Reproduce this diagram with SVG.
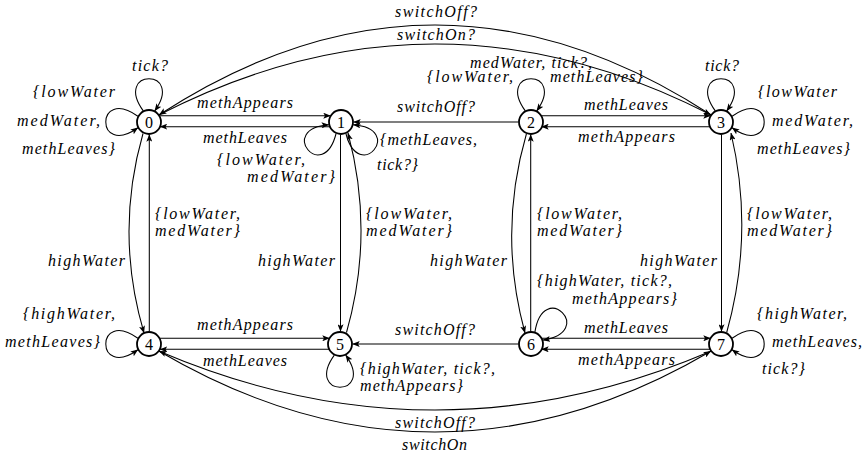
<svg xmlns="http://www.w3.org/2000/svg" width="867" height="457" viewBox="0 0 867 457">
  <style>
    .st circle { fill: #fff; stroke: #000; stroke-width: 1.8; }
    .tr path { fill: none; stroke: #000; stroke-width: 1.05; marker-end: url(#ah); }
  </style>
  <defs>
    <marker id="ah" viewBox="0 0 10 8" refX="9.6" refY="4" markerWidth="7.5" markerHeight="6" markerUnits="userSpaceOnUse" orient="auto">
      <path d="M0,0 L10,4 L0,8 L2.2,4 z" fill="#000"/>
    </marker>
  </defs>

  <!-- transitions -->
  <g id="transitions" class="tr">
    <!-- long arcs between 0 and 3 -->
    <path d="M710.8,114.8 Q435,-64.8 159.2,114.8"/>
    <path d="M159.2,114.8 Q435,-26.8 710.8,114.8"/>
    <!-- long arcs between 4 and 7 -->
    <path d="M710.8,351.2 Q435,468.8 159.2,351.2"/>
    <path d="M159.2,351.2 Q435,512.8 710.8,351.2"/>

    <!-- horizontal, upper row -->
    <path d="M160,115.7 L330.5,115.7"/>
    <path d="M330.5,126.7 L160,126.7"/>
    <path d="M518.5,122 L353.5,122"/>
    <path d="M541.5,115.7 L710.5,115.7"/>
    <path d="M710.5,126.7 L541.5,126.7"/>

    <!-- horizontal, lower row -->
    <path d="M160,338.3 L329.5,338.3"/>
    <path d="M329.5,349.3 L160,349.3"/>
    <path d="M518.5,344 L352.5,344"/>
    <path d="M541.5,338.3 L710.5,338.3"/>
    <path d="M710.5,349.3 L541.5,349.3"/>

    <!-- vertical -->
    <path d="M149.3,331.5 L149.3,134.5"/>
    <path d="M143,133.5 Q114.5,233 144,333"/>
    <path d="M340.5,134.5 L340.5,331.5"/>
    <path d="M346.5,332.5 Q374.8,233 348,133"/>
    <path d="M530.7,331.5 L530.7,134.5"/>
    <path d="M526.5,133.5 Q497.6,233 525,333"/>
    <path d="M721.5,134.5 L721.5,331.5"/>
    <path d="M726.7,332.5 Q754.6,233 731,133"/>

    <!-- self loops -->
    <path d="M143.3,110.9 C112.7,68.1 185.3,68.1 154.7,110.9"/>
    <path d="M137.9,116.3 C95.1,85.7 95.1,158.3 137.9,127.7"/>
    <path d="M336.1,133.5 C323.1,184.5 276.4,128.8 328.8,124.8"/>
    <path d="M345.9,133.5 C358.9,184.5 405.6,128.8 353.2,124.8"/>
    <path d="M525.3,110.9 C494.7,68.1 567.3,68.1 536.7,110.9"/>
    <path d="M715.3,110.9 C684.7,68.1 757.3,68.1 726.7,110.9"/>
    <path d="M732.1,116.3 C774.9,85.7 774.9,158.3 732.1,127.7"/>
    <path d="M137.9,338.3 C95.1,307.7 95.1,380.3 137.9,349.7"/>
    <path d="M334.3,355.1 C303.7,397.9 376.3,397.9 345.7,355.1"/>
    <path d="M534.9,332.1 C543.4,278.2 596.8,331.6 542.9,340.1"/>
    <path d="M732.1,338.3 C774.9,307.7 774.9,380.3 732.1,349.7"/>
  </g>

  <!-- transition labels -->
  <g id="labels" font-family="Liberation Serif, Times New Roman, DejaVu Serif, serif" font-style="italic" font-size="16" fill="#000" lengthAdjust="spacing">
    <text x="132" y="71" textLength="36" lengthAdjust="spacing">tick?</text>
    <text x="33" y="97" textLength="82" lengthAdjust="spacing">{lowWater</text>
    <text x="17" y="126" textLength="83" lengthAdjust="spacing">medWater,</text>
    <text x="22" y="154" textLength="93" lengthAdjust="spacing">methLeaves}</text>

    <text x="197" y="108" textLength="96" lengthAdjust="spacing">methAppears</text>
    <text x="203" y="143" textLength="84" lengthAdjust="spacing">methLeaves</text>

    <text x="217" y="165" textLength="88" lengthAdjust="spacing">{lowWater,</text>
    <text x="247" y="182" textLength="88" lengthAdjust="spacing">medWater}</text>
    <text x="380" y="145" textLength="97" lengthAdjust="spacing">{methLeaves,</text>
    <text x="377" y="170" textLength="41" lengthAdjust="spacing">tick?}</text>

    <text x="395" y="17" textLength="82" lengthAdjust="spacing">switchOff?</text>
    <text x="397" y="40" textLength="78" lengthAdjust="spacing">switchOn?</text>

    <text x="397" y="112" textLength="78" lengthAdjust="spacing">switchOff?</text>

    <text x="470" y="68" textLength="122" lengthAdjust="spacing">medWater, tick?,</text>
    <text x="427" y="82" textLength="86" lengthAdjust="spacing">{lowWater,</text>
    <text x="550" y="82" textLength="93" lengthAdjust="spacing">methLeaves}</text>

    <text x="584" y="110" textLength="84" lengthAdjust="spacing">methLeaves</text>
    <text x="578" y="142" textLength="97" lengthAdjust="spacing">methAppears</text>

    <text x="705" y="71" textLength="34" lengthAdjust="spacing">tick?</text>
    <text x="758" y="97" textLength="79" lengthAdjust="spacing">{lowWater</text>
    <text x="772" y="126" textLength="81" lengthAdjust="spacing">medWater,</text>
    <text x="757" y="154" textLength="93" lengthAdjust="spacing">methLeaves}</text>

    <text x="155" y="219" textLength="85" lengthAdjust="spacing">{lowWater,</text>
    <text x="155" y="236" textLength="85" lengthAdjust="spacing">medWater}</text>
    <text x="48" y="266" textLength="77" lengthAdjust="spacing">highWater</text>
    <text x="258" y="266" textLength="77" lengthAdjust="spacing">highWater</text>
    <text x="366" y="219" textLength="86" lengthAdjust="spacing">{lowWater,</text>
    <text x="366" y="236" textLength="86" lengthAdjust="spacing">medWater}</text>
    <text x="430" y="266" textLength="77" lengthAdjust="spacing">highWater</text>
    <text x="537" y="219" textLength="85" lengthAdjust="spacing">{lowWater,</text>
    <text x="537" y="236" textLength="85" lengthAdjust="spacing">medWater}</text>
    <text x="640" y="266" textLength="77" lengthAdjust="spacing">highWater</text>
    <text x="747" y="219" textLength="85" lengthAdjust="spacing">{lowWater,</text>
    <text x="747" y="236" textLength="85" lengthAdjust="spacing">medWater}</text>

    <text x="537" y="286" textLength="135" lengthAdjust="spacing">{highWater, tick?,</text>
    <text x="572" y="304" textLength="105" lengthAdjust="spacing">methAppears}</text>

    <text x="23" y="319" textLength="92" lengthAdjust="spacing">{highWater,</text>
    <text x="5" y="347" textLength="95" lengthAdjust="spacing">methLeaves}</text>

    <text x="197" y="330" textLength="96" lengthAdjust="spacing">methAppears</text>
    <text x="203" y="366" textLength="84" lengthAdjust="spacing">methLeaves</text>
    <text x="395" y="335" textLength="80" lengthAdjust="spacing">switchOff?</text>
    <text x="584" y="333" textLength="84" lengthAdjust="spacing">methLeaves</text>
    <text x="578" y="365" textLength="97" lengthAdjust="spacing">methAppears</text>

    <text x="360" y="374" textLength="135" lengthAdjust="spacing">{highWater, tick?,</text>
    <text x="360" y="391" textLength="103" lengthAdjust="spacing">methAppears}</text>

    <text x="757" y="319" textLength="90" lengthAdjust="spacing">{highWater,</text>
    <text x="772" y="347" textLength="90" lengthAdjust="spacing">methLeaves,</text>
    <text x="762" y="374" textLength="43" lengthAdjust="spacing">tick?}</text>

    <text x="395" y="428" textLength="80" lengthAdjust="spacing">switchOff?</text>
    <text x="402" y="450" textLength="65" lengthAdjust="spacing">switchOn</text>
  </g>

  <!-- states -->
  <g font-family="Liberation Serif, Times New Roman, DejaVu Serif, serif" font-size="16" text-anchor="middle" fill="#000">
    <g id="s0" class="st"><circle cx="149" cy="122" r="12"/><text x="149" y="127.5">0</text></g>
    <g id="s1" class="st"><circle cx="341" cy="122" r="12"/><text x="341" y="127.5">1</text></g>
    <g id="s2" class="st"><circle cx="531" cy="122" r="12"/><text x="531" y="127.5">2</text></g>
    <g id="s3" class="st"><circle cx="721" cy="122" r="12"/><text x="721" y="127.5">3</text></g>
    <g id="s4" class="st"><circle cx="149" cy="344" r="12"/><text x="149" y="349.5">4</text></g>
    <g id="s5" class="st"><circle cx="340" cy="344" r="12"/><text x="340" y="349.5">5</text></g>
    <g id="s6" class="st"><circle cx="531" cy="344" r="12"/><text x="531" y="349.5">6</text></g>
    <g id="s7" class="st"><circle cx="721" cy="344" r="12"/><text x="721" y="349.5">7</text></g>
  </g>
</svg>
